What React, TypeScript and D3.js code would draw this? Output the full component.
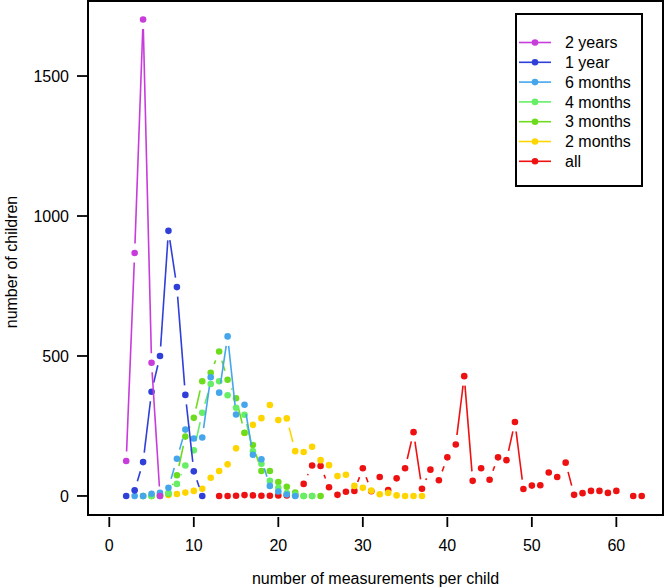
import React from "react";
import * as d3 from "d3";

// ---- data ----
const seriesNames = ["2 years", "1 year", "6 months", "4 months", "3 months", "2 months", "all"];
const seriesColors = ["#C83CDC", "#2F3FD8", "#45A6EC", "#66EE66", "#6EDC1E", "#FFD500", "#EE1111"];

const twoYearsStart = 2;
const twoYears = [125, 868, 1702, 476, 0];

const oneYearStart = 2;
const oneYear = [0, 20, 121, 372, 500, 947, 746, 361, 88, 0];

const sixMonthsStart = 3;
const sixMonths = [0, 0, 8, 11, 29, 133, 237, 205, 209, 424, 369, 570, 291, 326, 147, 131, 36, 16, 5, 0];

const fourMonthsStart = 4;
const fourMonths = [0, 0, 0, 11, 43, 109, 163, 297, 400, 410, 360, 315, 290, 160, 115, 54, 29, 10, 5, 0, 0];

const threeMonthsStart = 4;
const threeMonths = [0, 0, 2, 8, 74, 212, 279, 410, 440, 516, 415, 349, 226, 182, 89, 89, 50, 33, 12, 0, 0, 0];

const twoMonthsStart = 5;
const twoMonths = [0, 2, 3, 7, 12, 18, 26, 65, 89, 113, 170, 225, 254, 278, 325, 271, 277, 160, 157, 176, 128, 110, 71, 76, 36, 29, 19, 6, 11, 2, 0, 0, 0];

const allStart = 13;
const all: (number | null)[] = [0, 0, 1, 3, 2, 1, 1, 2, 2, 2, 43, 109, 107, 31, 4, 15, 18, 99, 17, 68, 21, 63, 99, 228, 26, 94, 56, 138, 184, 428, 54, 99, 58, 138, 128, 264, 25, 37, 38, 84, 68, 119, 4, 10, 18, 18, 11, 18, null, 0, 0];

const xTicks = [0, 10, 20, 30, 40, 50, 60];
const yTicks = [0, 500, 1000, 1500];

const xTitle = "number of measurements per child";
const yTitle = "number of children";

// ---- layout ----
const W = 665;
const H = 588;
const plotL = 88, plotR = 663, plotT = 1, plotB = 515;
const FONT = "'Liberation Sans', Arial, Helvetica, sans-serif";

type Pt = { x: number; v: number | null };

function toPts(start: number, vals: (number | null)[]): Pt[] {
  return vals.map((v, i) => ({ x: start + i, v }));
}

const seriesData: Pt[][] = [
  toPts(twoYearsStart, twoYears),
  toPts(oneYearStart, oneYear),
  toPts(sixMonthsStart, sixMonths),
  toPts(fourMonthsStart, fourMonths),
  toPts(threeMonthsStart, threeMonths),
  toPts(twoMonthsStart, twoMonths),
  toPts(allStart, all),
];

export default function App() {
  const x = d3.scaleLinear().domain([-2.52, 65.52]).range([plotL, plotR]);
  const y = d3.scaleLinear().domain([-68, 1768]).range([plotB, plotT]);
  const gap = 9.5;
  const r = 3.3;

  const drawOrder = d3.range(seriesData.length).reverse();

  return (
    <svg width={W} height={H} style={{ position: "absolute", left: 0, top: 0, background: "#fff" }} fontFamily={FONT}>
      <rect x={0} y={0} width={W} height={H} fill="#fff" />
      {drawOrder.map((si) => {
        const pts = seriesData[si];
        const color = seriesColors[si];
        const segs: JSX.Element[] = [];
        for (let i = 0; i < pts.length - 1; i++) {
          const a = pts[i], b = pts[i + 1];
          if (a.v == null || b.v == null) continue;
          const x1 = x(a.x), y1 = y(a.v), x2 = x(b.x), y2 = y(b.v);
          const dx = x2 - x1, dy = y2 - y1;
          const len = Math.hypot(dx, dy);
          if (len <= 2 * gap) continue;
          const ux = dx / len, uy = dy / len;
          segs.push(
            <line key={"s" + i} x1={x1 + ux * gap} y1={y1 + uy * gap} x2={x2 - ux * gap} y2={y2 - uy * gap}
              stroke={color} strokeWidth={1.6} />
          );
        }
        return (
          <g key={si}>
            {segs}
            {pts.filter((p) => p.v != null).map((p) => (
              <circle key={p.x} cx={x(p.x)} cy={y(p.v as number)} r={r} fill={color} />
            ))}
          </g>
        );
      })}

      {/* box */}
      <rect x={plotL} y={plotT} width={plotR - plotL} height={plotB - plotT} fill="none" stroke="#000" strokeWidth={2} />

      {/* x axis */}
      {xTicks.map((t) => (
        <g key={"xt" + t}>
          <line x1={x(t)} x2={x(t)} y1={517} y2={527} stroke="#000" strokeWidth={1.8} />
          <text x={x(t)} y={550.5} textAnchor="middle" fontSize={16} fill="#000">{t}</text>
        </g>
      ))}
      <text x={(plotL + plotR) / 2} y={584} textAnchor="middle" fontSize={16} fill="#000">{xTitle}</text>

      {/* y axis */}
      {yTicks.map((t) => (
        <g key={"yt" + t}>
          <line x1={77} x2={87} y1={y(t)} y2={y(t)} stroke="#000" strokeWidth={1.8} />
          <text x={69} y={y(t) + 5.7} textAnchor="end" fontSize={16} fill="#000">{t}</text>
        </g>
      ))}
      <text transform={`translate(17,262) rotate(-90)`} textAnchor="middle" fontSize={16} fill="#000">{yTitle}</text>

      {/* legend */}
      <rect x={516} y={14} width={126} height={172} fill="#fff" stroke="#000" strokeWidth={2} />
      {seriesNames.map((n, i) => {
        const ly = 42.5 + i * 19.8;
        return (
          <g key={"lg" + i}>
            <line x1={519} x2={551} y1={ly} y2={ly} stroke={seriesColors[i]} strokeWidth={1.6} />
            <circle cx={535} cy={ly} r={r} fill={seriesColors[i]} />
            <text x={565} y={ly + 5.7} fontSize={16} fill="#000">{n}</text>
          </g>
        );
      })}
    </svg>
  );
}
